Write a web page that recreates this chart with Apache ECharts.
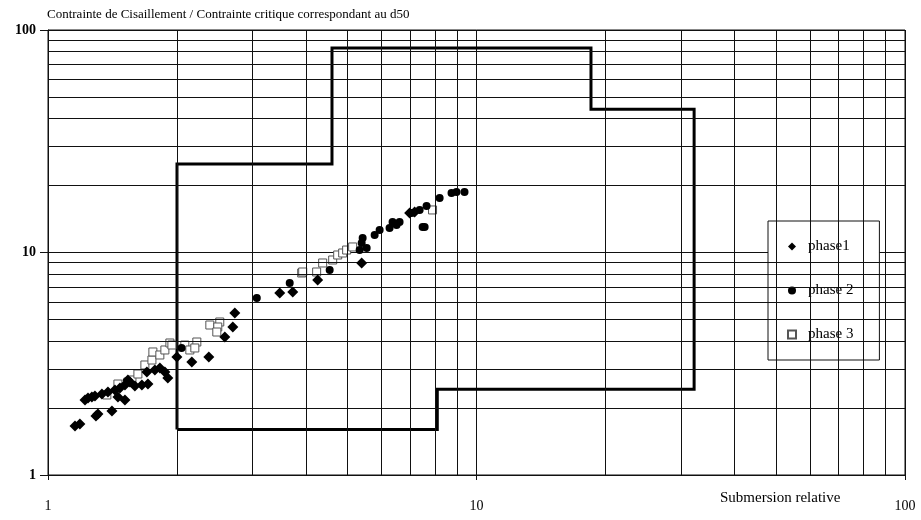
<!DOCTYPE html>
<html>
<head>
<meta charset="utf-8">
<script src="https://cdn.jsdelivr.net/npm/echarts@6/dist/echarts.min.js"></script>
<style>html,body{margin:0;padding:0;background:#fff}#c{width:921px;height:520px}</style>
</head>
<body>
<div id="c"></div>
<script>
var titleText = 'Contrainte de Cisaillement / Contrainte critique correspondant au d50';
var xName = 'Submersion relative';
var seriesNames = ['phase1', 'phase 2', 'phase 3'];

// zone boundary (closed polygon)
var zoneX = [2, 2, 4.6, 4.6, 18.5, 18.5, 32.2, 32.2, 8.1, 8.1, 2];
var zoneY = [1.6, 25, 25, 83, 83, 44, 44, 2.43, 2.43, 1.6, 1.6];

// minor grid values
var minorX = [2, 3, 4, 5, 6, 7, 8, 9, 20, 30, 40, 50, 60, 70, 80, 90];
var minorY = [2, 3, 4, 5, 6, 7, 8, 9, 20, 30, 40, 50, 60, 70, 80, 90];

var phase1 = [
  [1.156, 1.661], [1.187, 1.695], [1.294, 1.842], [1.308, 1.880], [1.410, 1.940],
  [1.220, 2.174], [1.240, 2.219], [1.266, 2.242], [1.287, 2.265], [1.336, 2.312], [1.380, 2.361],
  [1.433, 2.410], [1.472, 2.460], [1.512, 2.538], [1.456, 2.242], [1.512, 2.174],
  [1.595, 2.512], [1.656, 2.538], [1.711, 2.564],
  [1.701, 2.904], [1.776, 2.965], [1.824, 3.027], [1.874, 2.904], [1.904, 2.729],
  [1.536, 2.673], [1.553, 2.618],
  [1.999, 3.391], [2.373, 3.391], [2.166, 3.220],
  [2.586, 4.171], [2.700, 4.626], [2.729, 5.349],
  [3.474, 6.577], [3.725, 6.645], [4.259, 7.521],
  [5.395, 8.972], [7.172, 15.21], [6.982, 15.05]
];
var phase2 = [
  [2.05, 3.723], [3.071, 6.245], [3.665, 7.294], [4.543, 8.344], [5.337, 10.26], [5.395, 11.03],
  [5.424, 11.62], [5.542, 10.48], [5.785, 11.99], [5.942, 12.62], [6.268, 12.89], [6.370, 13.71],
  [6.509, 13.29], [6.614, 13.71], [7.057, 15.05], [7.367, 15.53], [7.646, 16.18],
  [7.486, 13.02], [7.568, 13.02], [8.202, 17.58], [8.744, 18.51], [8.982, 18.70], [9.376, 18.70]
];
var phase3 = [
  [1.372, 2.289], [1.456, 2.564], [1.536, 2.618], [1.570, 2.673], [1.621, 2.844], [1.683, 3.122],
  [1.748, 3.287], [1.757, 3.572], [1.824, 3.462], [1.874, 3.647], [1.925, 3.920], [1.946, 3.839],
  [2.086, 3.839], [2.143, 3.647], [2.225, 3.960], [2.201, 3.723], [2.386, 4.722], [2.517, 4.872],
  [2.490, 4.626], [2.477, 4.392], [3.909, 8.088], [3.930, 8.173], [4.236, 8.173], [4.375, 8.972],
  [4.617, 9.254], [4.743, 9.745], [4.872, 9.949], [4.977, 10.26], [5.140, 10.59], [7.896, 15.53]
];

var FONT = '"Liberation Serif", "DejaVu Serif", serif';
var zone = zoneX.map(function (x, i) { return [x, zoneY[i]]; });
var gridLine = { color: '#111', width: 1, type: 'solid' };

var markData = minorX.map(function (v) { return { xAxis: v }; })
  .concat(minorY.map(function (v) { return { yAxis: v }; }));

var chart = echarts.init(document.getElementById('c'), null, { renderer: 'canvas' });
chart.setOption({
  animation: false,
  backgroundColor: '#fff',
  title: {
    text: titleText, left: 42, top: 3,
    textStyle: { fontFamily: FONT, fontSize: 13, fontWeight: 'normal', color: '#000' }
  },
  grid: { left: 48, right: 16, top: 30, bottom: 45, show: true, borderColor: '#111', borderWidth: 1 },
  xAxis: {
    type: 'log', logBase: 10, min: 1, max: 100, interval: 1,
    axisLine: { show: true, lineStyle: { color: '#111', width: 1 } },
    axisTick: { show: true, length: 5, lineStyle: { color: '#111' } },
    axisLabel: { margin: 24, fontFamily: FONT, fontSize: 14, color: '#000',
      formatter: function (v) { return String(Math.round(v)); } },
    splitLine: { show: true, lineStyle: gridLine }
  },
  yAxis: {
    type: 'log', logBase: 10, min: 1, max: 100, interval: 1,
    axisLine: { show: true, lineStyle: { color: '#111', width: 1 } },
    axisTick: { show: true, length: 8, lineStyle: { color: '#111' } },
    axisLabel: { margin: 12, fontFamily: FONT, fontSize: 14, fontWeight: 'bold', color: '#000',
      formatter: function (v) { return String(Math.round(v)); } },
    splitLine: { show: true, lineStyle: gridLine }
  },
  legend: {
    data: seriesNames,
    orient: 'vertical', left: 768, top: 221,
    padding: [18, 26, 18, 19], itemGap: 29,
    itemWidth: 8, itemHeight: 8,
    backgroundColor: '#fff', borderColor: '#111', borderWidth: 1,
    textStyle: { fontFamily: FONT, fontSize: 15, color: '#000', padding: [0, 0, 0, 7] }
  },
  graphic: [{
    type: 'text', left: 720, top: 491, silent: true,
    style: { text: xName, font: '15px ' + FONT, fill: '#000' }
  }],
  series: [
    {
      name: 'grille', type: 'line', data: [], z: 1, silent: true,
      markLine: {
        silent: true, symbol: ['none', 'none'], label: { show: false },
        lineStyle: { color: '#111', width: 1, type: 'solid' },
        emphasis: { disabled: true },
        data: markData
      }
    },
    {
      name: 'zone', type: 'line', data: zone, z: 3, silent: true,
      showSymbol: false, symbol: 'none',
      lineStyle: { color: '#000', width: 3, join: 'miter' }
    },
    {
      name: 'phase 3', type: 'scatter', data: phase3, z: 4,
      symbol: 'rect', symbolSize: 8,
      itemStyle: { color: '#fff', borderColor: '#555', borderWidth: 1, opacity: 1 }
    },
    {
      name: 'phase1', type: 'scatter', data: phase1, z: 5,
      symbol: 'diamond', symbolSize: 11,
      itemStyle: { color: '#000', opacity: 1 }
    },
    {
      name: 'phase 2', type: 'scatter', data: phase2, z: 5,
      symbol: 'circle', symbolSize: 8,
      itemStyle: { color: '#000', opacity: 1 }
    }
  ]
});
</script>
</body>
</html>
